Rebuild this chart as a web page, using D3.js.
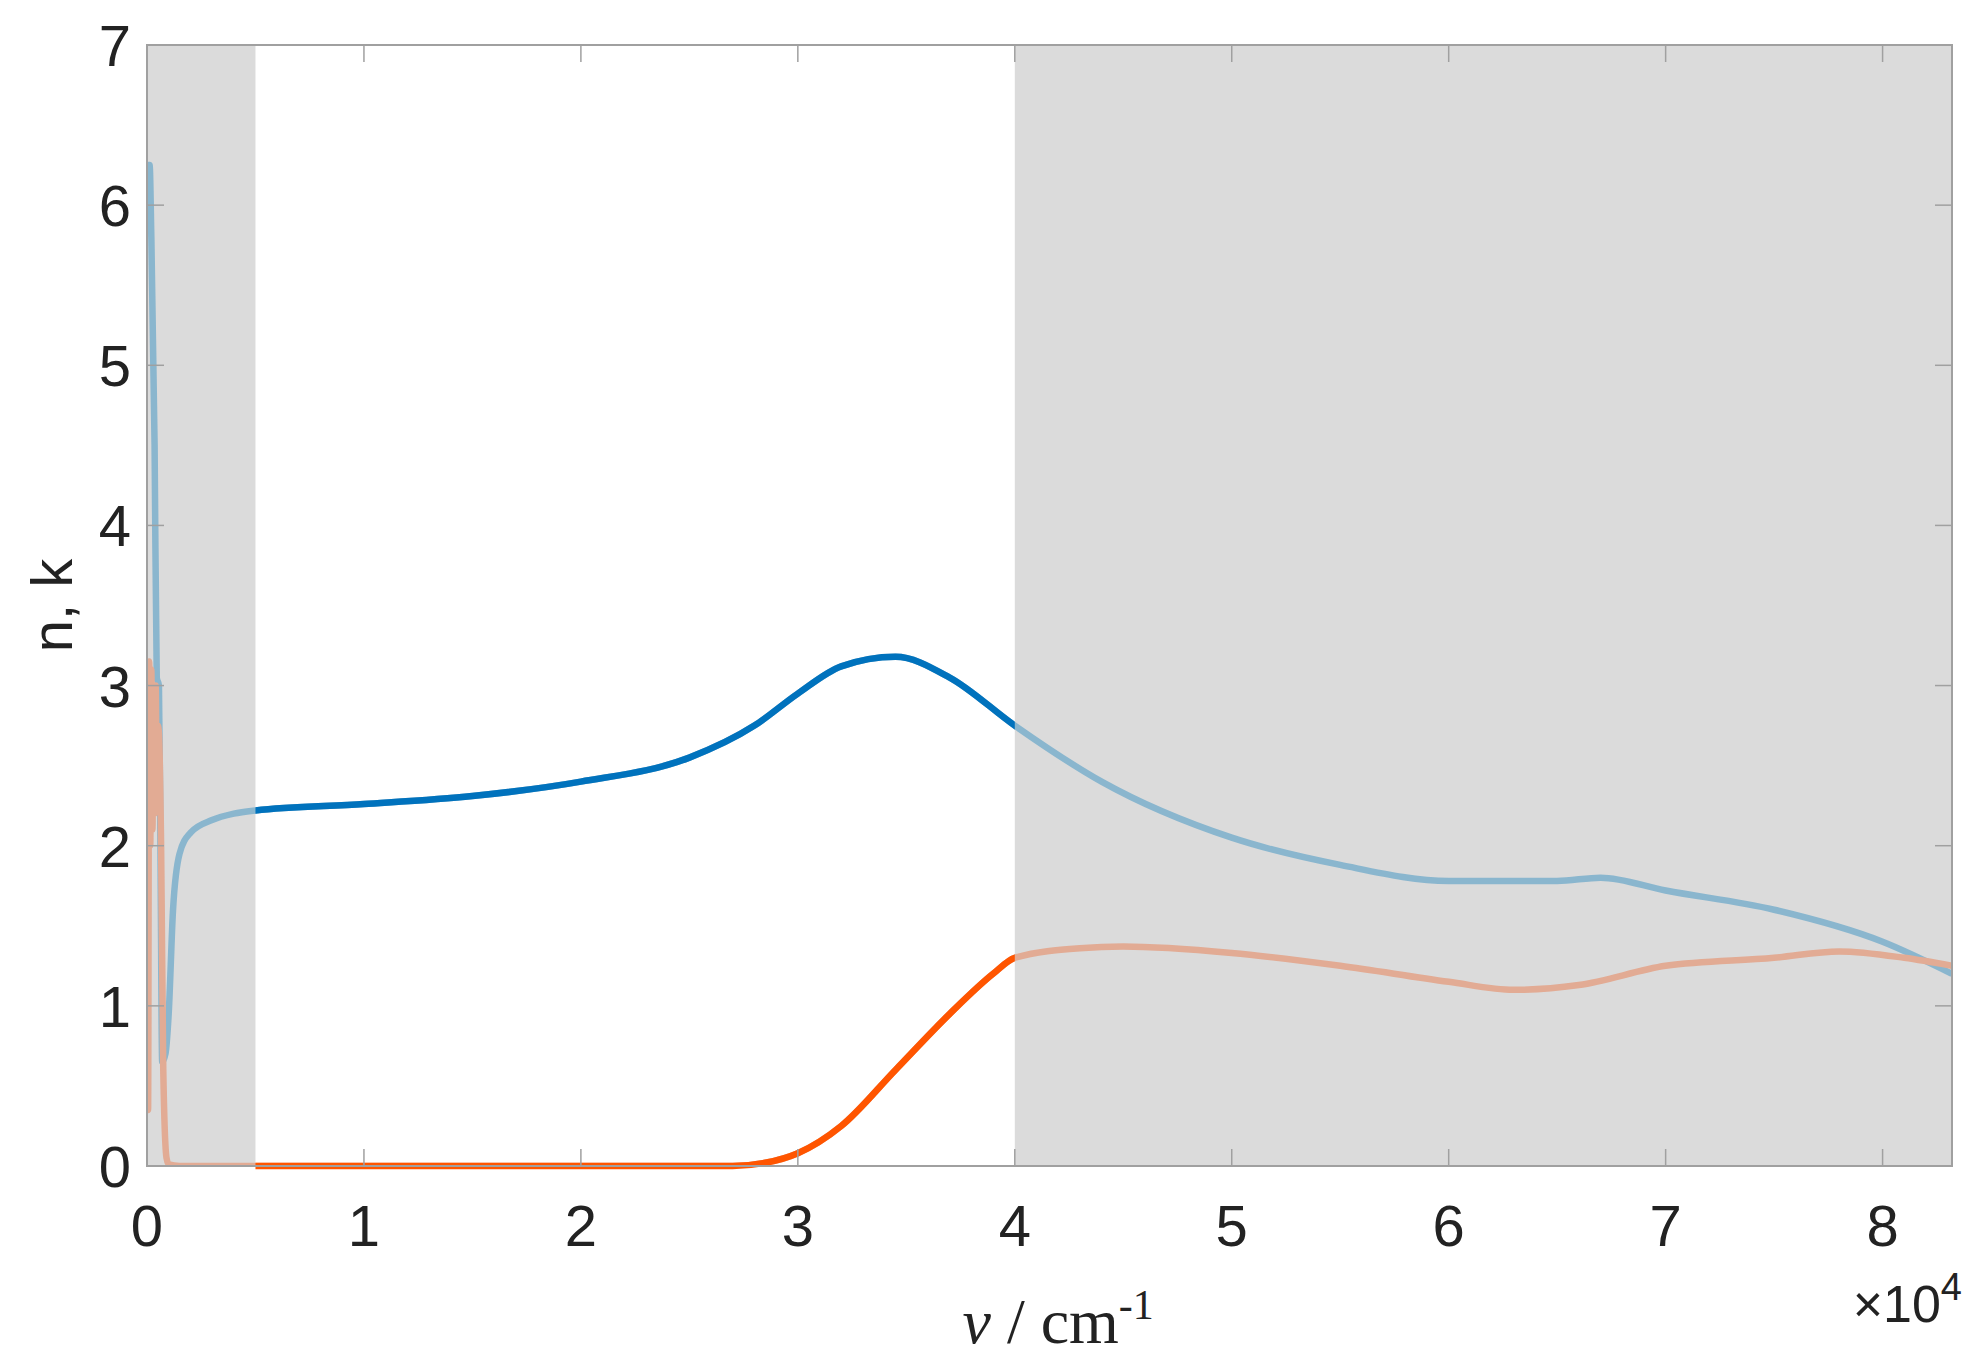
<!DOCTYPE html>
<html><head><meta charset="utf-8">
<script src="https://cdn.jsdelivr.net/npm/d3@7"></script>
<style>body{margin:0;background:#fff}</style></head>
<body>
<script>
const width = 1986, height = 1361;
const margin = {left: 147, right: 34, top: 45, bottom: 195};

// wavenumber in units of 1e4 cm^-1
const nX = [0, 0.005, 0.012, 0.02, 0.035, 0.045, 0.055, 0.062, 0.07, 0.085, 0.1, 0.12, 0.15, 0.2, 0.3, 0.4, 0.5, 1, 1.5, 2, 2.5, 2.8, 3.0, 3.2, 3.45, 3.7, 4.0, 4.4, 5, 5.5, 6, 6.5, 6.7, 7, 7.5, 8, 8.32];
const nY = [6.0, 6.25, 6.25, 5.8, 4.5, 3.05, 3.0, 2.0, 0.65, 0.7, 0.95, 1.6, 1.95, 2.08, 2.16, 2.2, 2.22, 2.26, 2.31, 2.4, 2.55, 2.75, 2.95, 3.12, 3.18, 3.05, 2.75, 2.4, 2.05, 1.88, 1.78, 1.78, 1.8, 1.72, 1.6, 1.4, 1.2];
const kX = [0, 0.005, 0.01, 0.015, 0.02, 0.025, 0.03, 0.035, 0.04, 0.045, 0.05, 0.055, 0.065, 0.075, 0.09, 0.1, 0.15, 0.5, 1, 2, 2.7, 2.85, 3.0, 3.2, 3.45, 3.7, 3.9, 4.0, 4.3, 4.5, 5, 5.5, 6, 6.3, 6.6, 7, 7.5, 7.8, 8.1, 8.32];
const kY = [0.35, 0.35, 3.15, 2.0, 3.1, 2.1, 2.9, 2.2, 3.0, 2.3, 2.75, 2.7, 2.0, 0.6, 0.05, 0.01, 0, 0, 0, 0, 0, 0.02, 0.08, 0.25, 0.6, 0.95, 1.2, 1.3, 1.36, 1.37, 1.33, 1.25, 1.15, 1.1, 1.13, 1.25, 1.3, 1.34, 1.3, 1.25];
const bands = [[0, 0.5], [4, 8.32]];
const xTicks = [0, 1, 2, 3, 4, 5, 6, 7, 8];
const yTicks = [0, 1, 2, 3, 4, 5, 6, 7];

const svg = d3.select('body').append('svg').attr('width', width).attr('height', height);
const x = d3.scaleLinear().domain([0, 8.32]).range([margin.left, width - margin.right]);
const y = d3.scaleLinear().domain([0, 7]).range([height - margin.bottom, margin.top]);

svg.selectAll('rect.band').data(bands).enter().append('rect')
  .attr('x', d => x(d[0])).attr('width', d => x(d[1]) - x(d[0]))
  .attr('y', y(7)).attr('height', y(0) - y(7)).attr('fill', '#dbdbdb');

const defs = svg.append('defs');
defs.append('clipPath').attr('id', 'mid').append('rect')
  .attr('x', x(0.5)).attr('width', x(4) - x(0.5)).attr('y', 0).attr('height', height);
defs.append('clipPath').attr('id', 'plot').append('rect')
  .attr('x', x(0)).attr('width', x(8.32) - x(0)).attr('y', y(7)).attr('height', y(0) - y(7));

const line = d3.line().x(d => x(d[0])).y(d => y(d[1])).curve(d3.curveMonotoneX);
const nData = d3.zip(nX, nY), kData = d3.zip(kX, kY);

const series = [
  [nData, '#8ab6ce', 'plot'], [kData, '#e2ab94', 'plot'],
  [nData, '#0072bd', 'mid'], [kData, '#ff5500', 'mid']
];
series.forEach(([d, c, clip]) => {
  svg.append('path').datum(d).attr('d', line).attr('fill', 'none')
    .attr('stroke', c).attr('stroke-width', 6.5).attr('clip-path', `url(#${clip})`);
});

// box and ticks
svg.append('rect').attr('x', x(0)).attr('y', y(7)).attr('width', x(8.32) - x(0)).attr('height', y(0) - y(7))
  .attr('fill', 'none').attr('stroke', '#a0a0a0').attr('stroke-width', 2);
const tl = 17;
xTicks.forEach(t => {
  svg.append('line').attr('x1', x(t)).attr('x2', x(t)).attr('y1', y(0)).attr('y2', y(0) - tl).attr('stroke', '#a0a0a0').attr('stroke-width', 1.5);
  svg.append('line').attr('x1', x(t)).attr('x2', x(t)).attr('y1', y(7)).attr('y2', y(7) + tl).attr('stroke', '#a0a0a0').attr('stroke-width', 1.5);
  svg.append('text').attr('x', x(t)).attr('y', y(0) + 80).attr('text-anchor', 'middle')
    .attr('font-family', 'Liberation Sans, Arial').attr('font-size', 58).attr('fill', '#222').text(t);
});
yTicks.forEach(t => {
  svg.append('line').attr('x1', x(0)).attr('x2', x(0) + tl).attr('y1', y(t)).attr('y2', y(t)).attr('stroke', '#a0a0a0').attr('stroke-width', 1.5);
  svg.append('line').attr('x1', x(8.32)).attr('x2', x(8.32) - tl).attr('y1', y(t)).attr('y2', y(t)).attr('stroke', '#a0a0a0').attr('stroke-width', 1.5);
  svg.append('text').attr('x', x(0) - 16).attr('y', y(t) + 21).attr('text-anchor', 'end')
    .attr('font-family', 'Liberation Sans, Arial').attr('font-size', 58).attr('fill', '#222').text(t);
});

const mult = svg.append('text').attr('x', width - 24).attr('y', 1322).attr('text-anchor', 'end')
  .attr('font-family', 'Liberation Sans, Arial').attr('font-size', 52).attr('fill', '#222');
mult.append('tspan').text('×10');
mult.append('tspan').attr('dy', -22).attr('font-size', 38).text('4');

const xl = svg.append('text').attr('x', x(4.2)).attr('y', 1343).attr('text-anchor', 'middle')
  .attr('font-family', 'Liberation Serif, Times New Roman').attr('font-size', 64).attr('fill', '#222');
xl.append('tspan').attr('font-style', 'italic').text('ν');
xl.append('tspan').text(' / cm');
xl.append('tspan').attr('dy', -24).attr('font-size', 42).text('-1');

svg.append('text').attr('transform', `translate(72,${y(3.5)}) rotate(-90)`).attr('text-anchor', 'middle')
  .attr('font-family', 'Liberation Sans, Arial').attr('font-size', 58).attr('fill', '#222').text('n, k');
</script>
</body></html>
